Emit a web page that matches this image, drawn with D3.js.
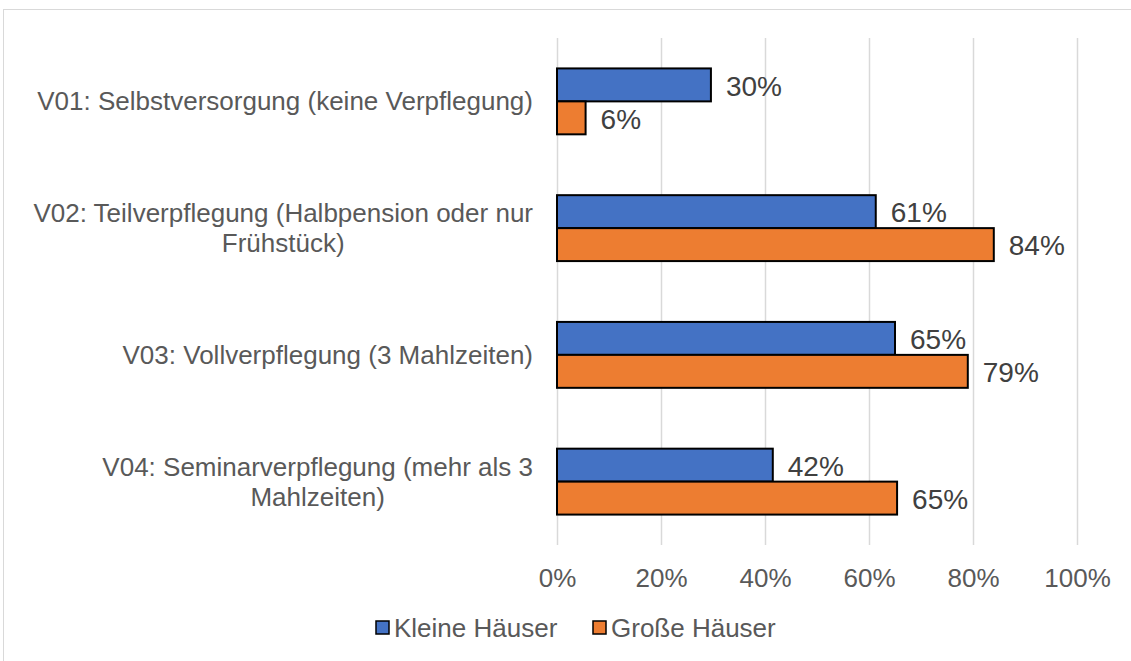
<!DOCTYPE html>
<html><head><meta charset="utf-8">
<script src="https://cdn.jsdelivr.net/npm/d3@7"></script>
<style>body{margin:0;background:#fff;} svg{display:block;font-family:"Liberation Sans",Arial,sans-serif;}</style>
</head><body>
<script>
const categories = [
  ["V01: Selbstversorgung (keine Verpflegung)"],
  ["V02: Teilverpflegung (Halbpension oder nur", "Frühstück)"],
  ["V03: Vollverpflegung (3 Mahlzeiten)"],
  ["V04: Seminarverpflegung (mehr als 3", "Mahlzeiten)"]
];
const seriesNames = ["Kleine Häuser", "Große Häuser"];
const kleine = [0.296, 0.613, 0.65, 0.415];
const grosse = [0.055, 0.84, 0.79, 0.654];
const labelsK = ["30%", "61%", "65%", "42%"];
const labelsG = ["6%", "84%", "79%", "65%"];
const ticks = [0, 0.2, 0.4, 0.6, 0.8, 1.0];
const colors = ["#4472C4", "#ED7D31"];

const W = 1131, H = 661, FS = 26, FSL = 28;
const svg = d3.select("body").append("svg").attr("width", W).attr("height", H);
svg.append("rect").attr("x", 3.5).attr("y", 9.5).attr("width", W + 10).attr("height", H + 10)
  .attr("fill", "none").attr("stroke", "#d9d9d9").attr("stroke-width", 1);

const x = d3.scaleLinear().domain([0, 1]).range([557, 1077]);
const y = d3.scaleBand().domain(d3.range(categories.length)).range([38, 545]).paddingInner(0.48).paddingOuter(0.24);
const y1 = d3.scaleBand().domain([0, 1]).range([0, y.bandwidth()]);

// gridlines
svg.append("g").selectAll("line").data(ticks).join("line")
  .attr("x1", d => Math.round(x(d)) + 0.5).attr("x2", d => Math.round(x(d)) + 0.5)
  .attr("y1", 38).attr("y2", 545).attr("stroke", "#d9d9d9").attr("stroke-width", 1.5);

// axis labels
const xAxis = d3.axisBottom(x).tickValues(ticks).tickFormat(d3.format(".0%")).tickSize(0).tickPadding(0);
const ax = svg.append("g").attr("transform", "translate(0,578)").call(xAxis);
ax.select(".domain").remove();
ax.selectAll("text").attr("font-size", FS).attr("fill", "#595959").attr("dy", "0.35em")
  .attr("font-family", "Liberation Sans, Arial, sans-serif");

const data = [kleine, grosse];
const labs = [labelsK, labelsG];
data.forEach((vals, s) => {
  const g = svg.append("g");
  g.selectAll("rect").data(vals).join("rect")
    .attr("x", x(0)).attr("y", (d, i) => y(i) + y1(s))
    .attr("width", d => x(d) - x(0)).attr("height", y1.bandwidth())
    .attr("fill", colors[s]).attr("stroke", "#000").attr("stroke-width", 2);
  g.selectAll("text").data(vals).join("text")
    .attr("x", d => x(d) + 15).attr("y", (d, i) => y(i) + y1(s) + y1.bandwidth() / 2 + 1)
    .attr("dy", "0.35em").attr("font-size", FSL).attr("fill", "#404040")
    .text((d, i) => labs[s][i]);
});

// category labels: block right-aligned at 533, lines centered within block
categories.forEach((lines, i) => {
  const cy = y(i) + y.bandwidth() / 2;
  const lh = 30;
  const tmp = lines.map(ln => svg.append("text").attr("font-size", FS).attr("fill", "#595959").text(ln));
  const maxW = d3.max(tmp, t => t.node().getComputedTextLength());
  const cx = 533 - maxW / 2;
  tmp.forEach((t, j) => {
    t.attr("x", cx).attr("text-anchor", "middle")
      .attr("y", cy + (j - (lines.length - 1) / 2) * lh).attr("dy", "0.35em");
  });
});

// legend
const leg = svg.append("g");
const legX = [376, 593];
seriesNames.forEach((n, s) => {
  leg.append("rect").attr("x", legX[s]).attr("y", 621).attr("width", 13).attr("height", 13)
    .attr("fill", colors[s]).attr("stroke", "#000").attr("stroke-width", 1.5);
  leg.append("text").attr("x", legX[s] + 18).attr("y", 628).attr("dy", "0.35em")
    .attr("font-size", FS).attr("fill", "#595959").text(n);
});
</script>
</body></html>
